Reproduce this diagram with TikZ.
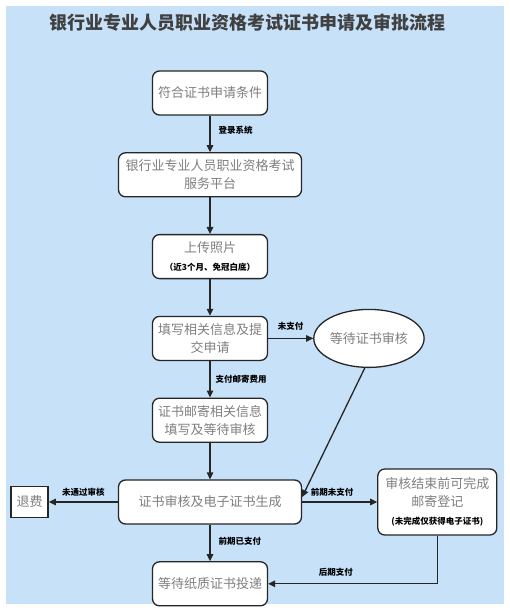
\documentclass[tikz,border=0pt]{standalone}
\usepackage{fontspec}
\setmainfont{Noto Sans CJK SC}
\usetikzlibrary{positioning,arrows.meta,shapes.geometric}
\definecolor{bgblue}{HTML}{C7E1F9}
\definecolor{boxtext}{HTML}{7F7F7F}
\newcommand{\subnote}[1]{{\fontsize{8.5}{11}\selectfont\bfseries\color{black}#1}}

\begin{document}
\begin{tikzpicture}[x=1pt,y=-1pt,
  stepbox/.style={draw=black!85,line width=1.3pt,fill=white,rounded corners=7pt,align=center,minimum width=115pt,minimum height=44pt,inner sep=2pt,font=\fontsize{13}{18}\selectfont,text=boxtext},
  widebox/.style={stepbox,minimum width=183pt},
  waitnode/.style={ellipse,draw=black!85,line width=1.3pt,fill=white,minimum width=97pt,minimum height=58pt,inner sep=0pt,font=\fontsize{13}{18}\selectfont,text=boxtext},
  refund/.style={draw=black!85,line width=1.6pt,fill=white,minimum width=37pt,minimum height=31pt,inner sep=0pt,font=\fontsize{13}{16}\selectfont,text=boxtext},
  tag/.style={font=\fontsize{8.5}{10}\selectfont\bfseries,text=black,inner sep=2pt},
  arr/.style={-{Triangle[length=7pt,width=6.5pt]},line width=1.3pt,draw=black!85},
  node distance=36.5pt
]
\useasboundingbox (0,0) rectangle (510,610);
\fill[bgblue] (6,6) rectangle (504,604);
\node[font=\fontsize{18}{22}\selectfont\bfseries,text=black!75] (title) at (247,23) {银行业专业人员职业资格考试证书申请及审批流程};

% main column
\node[stepbox] (cond) at (210,93) {符合证书申请条件};
\node[widebox,below=of cond] (platform) {银行业专业人员职业资格考试\\服务平台};
\node[stepbox,below=of platform] (photo) {上传照片\\\subnote{（近3个月、免冠白底）}};
\node[stepbox,below=of photo] (fill) {填写相关信息及提\\交申请};
\node[stepbox,below=of fill] (mailinfo) {证书邮寄相关信息\\填写及等待审核};
\node[widebox,below=of mailinfo] (review) {证书审核及电子证书生成};
\node[stepbox,below=of review] (paper) {等待纸质证书投递};

% side nodes
\node[waitnode,right=45pt of fill] (wait) {等待证书审核};
\node[refund,left=69pt of review] (refund) {退费};
\node[stepbox,minimum width=119pt,minimum height=66pt,right=75pt of review] (mailreg) {审核结束前可完成\\邮寄登记\\\subnote{(未完成仅获得电子证书)}};

\draw[arr] (cond) -- node[tag,right=6pt,pos=.4] {登录系统} (platform);
\draw[arr] (platform) -- (photo);
\draw[arr] (photo) -- (fill);
\draw[arr] (fill) -- node[tag,above=5pt] {未支付} (wait);
\draw[arr] (fill) -- node[tag,right=3pt] {支付邮寄费用} (mailinfo);
\draw[arr] (mailinfo) -- (review);
\draw[arr] (wait.262) -- ([yshift=5pt]review.east);
\draw[arr] (review) -- node[tag,above=3pt] {未通过审核} (refund);
\draw[arr] (review) -- node[tag,above=3pt,pos=.4] {前期未支付} (mailreg);
\draw[arr] (review) -- node[tag,right=6pt,pos=.45] {前期已支付} (paper);
\draw[arr] (mailreg.south) |- node[tag,above=5pt,pos=.8] {后期支付} (paper.east);
\end{tikzpicture}
\end{document}
